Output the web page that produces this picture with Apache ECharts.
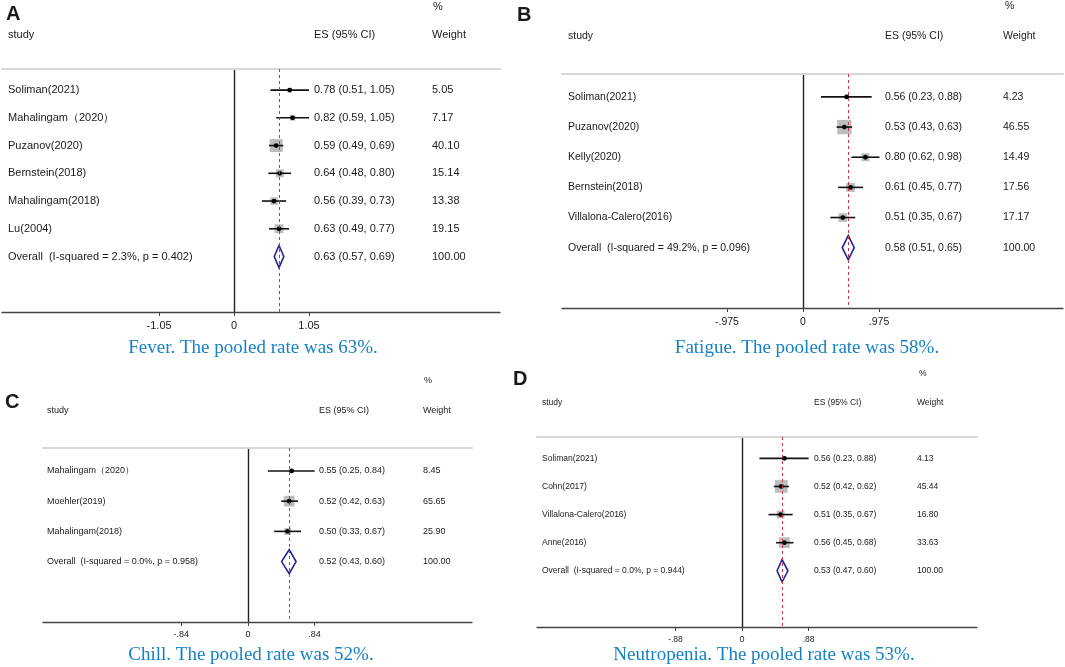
<!DOCTYPE html>
<html>
<head>
<meta charset="utf-8">
<script src="https://cdn.jsdelivr.net/npm/echarts@6/dist/echarts.min.js"></script>
<style>html,body{margin:0;padding:0;background:#fff;}#c{width:1065px;height:667px;}</style>
</head>
<body>
<div id="c"></div>
<script>
// ---------- DATA ----------
// Panel A: Fever
const A_studies = ['Soliman(2021)', 'Mahalingam（2020）', 'Puzanov(2020)', 'Bernstein(2018)', 'Mahalingam(2018)', 'Lu(2004)', 'Overall  (I-squared = 2.3%, p = 0.402)'];
const A_es  = [0.78, 0.82, 0.59, 0.64, 0.56, 0.63, 0.63];
const A_lo  = [0.51, 0.59, 0.49, 0.48, 0.39, 0.49, 0.57];
const A_hi  = [1.05, 1.05, 0.69, 0.80, 0.73, 0.77, 0.69];
const A_wt  = [5.05, 7.17, 40.10, 15.14, 13.38, 19.15, 100.00];
const A_ticks = [-1.05, 0, 1.05];
const A_tickLabels = ['-1.05', '0', '1.05'];
const A_caption = 'Fever. The pooled rate was 63%.';

// Panel B: Fatigue
const B_studies = ['Soliman(2021)', 'Puzanov(2020)', 'Kelly(2020)', 'Bernstein(2018)', 'Villalona-Calero(2016)', 'Overall  (I-squared = 49.2%, p = 0.096)'];
const B_es  = [0.56, 0.53, 0.80, 0.61, 0.51, 0.58];
const B_lo  = [0.23, 0.43, 0.62, 0.45, 0.35, 0.51];
const B_hi  = [0.88, 0.63, 0.98, 0.77, 0.67, 0.65];
const B_wt  = [4.23, 46.55, 14.49, 17.56, 17.17, 100.00];
const B_ticks = [-0.975, 0, 0.975];
const B_tickLabels = ['-.975', '0', '.975'];
const B_caption = 'Fatigue. The pooled rate was 58%.';

// Panel C: Chill
const C_studies = ['Mahalingam（2020）', 'Moehler(2019)', 'Mahalingam(2018)', 'Overall  (I-squared = 0.0%, p = 0.958)'];
const C_es  = [0.55, 0.52, 0.50, 0.52];
const C_lo  = [0.25, 0.42, 0.33, 0.43];
const C_hi  = [0.84, 0.63, 0.67, 0.60];
const C_wt  = [8.45, 65.65, 25.90, 100.00];
const C_ticks = [-0.84, 0, 0.84];
const C_tickLabels = ['-.84', '0', '.84'];
const C_caption = 'Chill. The pooled rate was 52%.';

// Panel D: Neutropenia
const D_studies = ['Soliman(2021)', 'Cohn(2017)', 'Villalona-Calero(2016)', 'Anne(2016)', 'Overall  (I-squared = 0.0%, p = 0.944)'];
const D_es  = [0.56, 0.52, 0.51, 0.56, 0.53];
const D_lo  = [0.23, 0.42, 0.35, 0.45, 0.47];
const D_hi  = [0.88, 0.62, 0.67, 0.68, 0.60];
const D_wt  = [4.13, 45.44, 16.80, 33.63, 100.00];
const D_ticks = [-0.88, 0, 0.88];
const D_tickLabels = ['-.88', '0', '.88'];
const D_caption = 'Neutropenia. The pooled rate was 53%.';

const letters = ['A', 'B', 'C', 'D'];

// ---------- LAYOUT ----------
const SANS = '"Liberation Sans", Arial, sans-serif';
const SERIF = '"Liberation Serif", "Times New Roman", serif';
const panels = [
  { key:'A', studies:A_studies, es:A_es, lo:A_lo, hi:A_hi, wt:A_wt, ticks:A_ticks, tickLabels:A_tickLabels, caption:A_caption,
    grid:{left:2, top:69, width:498, height:243}, xMin:-3.25, xMax:3.725,
    labelX:8, esX:314, wX:432, fs:11, boxK:2.05, headY:35, pctX:433, pctY:7,
    letter:{x:6, y:14}, cap:{x:253, y:348}, lblMargin:8 },
  { key:'B', studies:B_studies, es:B_es, lo:B_lo, hi:B_hi, wt:B_wt, ticks:B_ticks, tickLabels:B_tickLabels, caption:B_caption,
    grid:{left:562, top:74, width:501, height:234}, xMin:-3.09, xMax:3.333,
    labelX:568, esX:885, wX:1003, fs:10.5, boxK:2.1, headY:36, pctX:1005, pctY:6,
    letter:{x:517, y:15}, cap:{x:807, y:348}, lblMargin:9 },
  { key:'C', studies:C_studies, es:C_es, lo:C_lo, hi:C_hi, wt:C_wt, ticks:C_ticks, tickLabels:C_tickLabels, caption:C_caption,
    grid:{left:43, top:448, width:429, height:174}, xMin:-2.585, xMax:2.825,
    labelX:47, esX:319, wX:423, fs:9, boxK:1.32, headY:411, pctX:424, pctY:381,
    letter:{x:5, y:402}, cap:{x:251, y:655}, lblMargin:8 },
  { key:'D', studies:D_studies, es:D_es, lo:D_lo, hi:D_hi, wt:D_wt, ticks:D_ticks, tickLabels:D_tickLabels, caption:D_caption,
    grid:{left:537, top:437, width:440, height:190}, xMin:-2.712, xMax:3.108,
    labelX:542, esX:814, wX:917, fs:8.5, boxK:1.88, headY:403, pctX:919, pctY:374,
    letter:{x:513, y:379}, cap:{x:764, y:655}, lblMargin:8 }
];

const TXT = '#1a1a1a';

function fmtES(e, l, h) { return e.toFixed(2) + ' (' + l.toFixed(2) + ', ' + h.toFixed(2) + ')'; }

function makeRender(p) {
  return function (params, api) {
    const i = api.value(0), e = api.value(1), l = api.value(2), h = api.value(3), w = api.value(4);
    const ov = api.value(5) === 1;
    const c = api.coord([e, i]), cl = api.coord([l, i]), ch = api.coord([h, i]);
    const y = c[1];
    const ch_ = [];
    if (ov) {
      const hh = api.size([0, 1])[1] * 0.8;
      ch_.push({ type:'polygon', shape:{ points:[[cl[0] - 0.5, y], [c[0], y - hh/2], [ch[0] + 0.5, y], [c[0], y + hh/2]] },
        style:{ fill:'#fff', stroke:'#23238c', lineWidth:1.6 } });
    } else {
      const s = p.boxK * Math.sqrt(w);
      ch_.push({ type:'rect', shape:{ x:c[0] - s/2, y:y - s/2, width:s, height:s }, style:{ fill:'#bdbdbd' } });
      ch_.push({ type:'line', shape:{ x1:cl[0], y1:y, x2:ch[0], y2:y }, style:{ stroke:'#111', lineWidth:1.6 } });
      ch_.push({ type:'circle', shape:{ cx:c[0], cy:y, r:2.4 }, style:{ fill:'#000' } });
    }
    const tstyle = (txt, x) => ({ type:'text', style:{ text:txt, x:x, y:y, fill:TXT, fontSize:p.fs, fontFamily:SANS, align:'left', verticalAlign:'middle' } });
    ch_.push(tstyle(p.studies[i], p.labelX));
    ch_.push(tstyle(fmtES(e, l, h), p.esX));
    ch_.push(tstyle(w.toFixed(2), p.wX));
    return { type:'group', children:ch_ };
  };
}

const grids = [], xAxes = [], yAxes = [], series = [], graphics = [];
panels.forEach((p, k) => {
  grids.push(Object.assign({ containLabel:false }, p.grid));
  const n = p.studies.length;
  xAxes.push({
    type:'value', gridIndex:k, position:'bottom', min:p.xMin, max:p.xMax,
    axisLine:{ show:true, onZero:false, lineStyle:{ color:'#444', width:1.3 } },
    axisTick:{ show:true, customValues:p.ticks, length:4, lineStyle:{ color:'#444' } },
    axisLabel:{ show:true, customValues:p.ticks, margin:p.lblMargin, color:'#222', fontSize:p.fs, fontFamily:SANS,
      formatter:(v) => { let best = 0; p.ticks.forEach((t, j) => { if (Math.abs(t - v) < Math.abs(p.ticks[best] - v)) best = j; }); return p.tickLabels[best]; } },
    splitLine:{ show:false }
  });
  xAxes.push({
    type:'value', gridIndex:k, position:'top', min:p.xMin, max:p.xMax,
    axisLine:{ show:true, onZero:false, lineStyle:{ color:'#d6d6d6', width:2 } },
    axisTick:{ show:false }, axisLabel:{ show:false }, splitLine:{ show:false }
  });
  yAxes.push({
    type:'value', gridIndex:k, inverse:true, min:-0.76, max:n + 1,
    axisLine:{ show:true, onZero:true, lineStyle:{ color:'#222', width:1.4 } },
    axisTick:{ show:false }, axisLabel:{ show:false }, splitLine:{ show:false }
  });
  const data = p.studies.map((s, i) => [i, p.es[i], p.lo[i], p.hi[i], p.wt[i], i === n - 1 ? 1 : 0]);
  series.push({
    type:'custom', xAxisIndex:2*k, yAxisIndex:k, data:data, renderItem:makeRender(p), clip:false, silent:true,
    markLine:{ silent:true, symbol:'none', label:{ show:false },
      lineStyle:{ color:'#cc3344', type:[3, 3], width:1 },
      data:[{ xAxis:p.es[n - 1] }] },
    z:3
  });
  // headers
  const ht = (txt, x, y, size, weight) => ({ type:'text', x:x, y:y, silent:true,
    style:{ text:txt, fill:TXT, fontSize:size, fontWeight:weight || 'normal', fontFamily:SANS, align:'left', verticalAlign:'middle' } });
  graphics.push(ht('%', p.pctX, p.pctY, p.fs));
  graphics.push(ht('study', p.labelX, p.headY, p.fs));
  graphics.push(ht('ES (95% CI)', p.esX, p.headY, p.fs));
  graphics.push(ht('Weight', p.wX, p.headY, p.fs));
  graphics.push(ht(letters[k], p.letter.x, p.letter.y, 20, 'bold'));
  graphics.push({ type:'text', x:p.cap.x, y:p.cap.y, silent:true,
    style:{ text:p.caption, fill:'#1681c6', fontSize:19, fontFamily:SERIF, align:'center', verticalAlign:'middle' } });
});

const chart = echarts.init(document.getElementById('c'), null, { renderer:'canvas' });
chart.setOption({
  backgroundColor:'#fff',
  animation:false,
  grid:grids, xAxis:xAxes, yAxis:yAxes, series:series, graphic:graphics
});
</script>
</body>
</html>
